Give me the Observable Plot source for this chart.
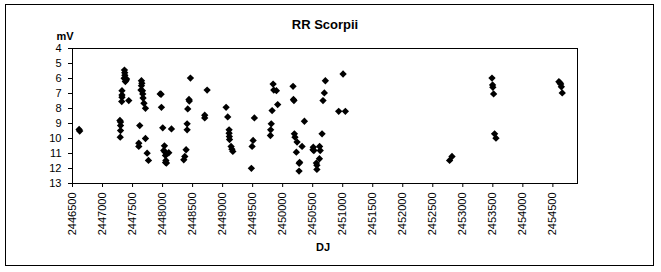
<!DOCTYPE html>
<html>
<head>
<meta charset="utf-8">
<script src="https://cdn.jsdelivr.net/npm/d3@7"></script>
<script src="https://cdn.jsdelivr.net/npm/@observablehq/plot@0.6"></script>
<style>
  html, body { margin: 0; padding: 0; background: #fff; }
  #wrap { position: relative; width: 661px; height: 272px; overflow: hidden; }
  #outer { position: absolute; left: 5px; top: 4px; width: 649px; height: 262px; border: 1px solid #000; box-sizing: border-box; }
  #chart { position: absolute; left: 0; top: 0; }
  g[aria-label="title"] text { letter-spacing: 1.2px; }
  g[aria-label="ylabel"] text { letter-spacing: 1.5px; }
</style>
</head>
<body>
<div id="wrap"><div id="outer"></div><div id="chart"></div></div>
<script>
// Julian dates (DJ) and visual magnitudes (mV)
const jd = [
  2446610, 2446620, 2447290, 2447300, 2447300, 2447300, 2447295,
  2447324, 2447324, 2447324, 2447320,
  2447365, 2447370, 2447372, 2447360, 2447395, 2447400, 2447380, 2447437,
  2447648, 2447655, 2447648, 2447640, 2447665, 2447670, 2447675, 2447690, 2447715,
  2447620, 2447604, 2447604, 2447715, 2447743, 2447765,
  2447960, 2447975, 2447981, 2448003, 2448031, 2448020, 2448040, 2448048, 2448055, 2448065, 2448050,
  2448103, 2448148,
  2448353, 2448370, 2448392, 2448409, 2448409, 2448419, 2448440, 2448445, 2448464,
  2448702, 2448702, 2448742,
  2449058, 2449085, 2449108, 2449108, 2449112, 2449115, 2449141, 2449155, 2449170,
  2449479, 2449491, 2449508, 2449529,
  2449796, 2449800, 2449810, 2449824, 2449841, 2449852, 2449896, 2449917,
  2450173, 2450180, 2450188, 2450195, 2450205, 2450240, 2450228, 2450283, 2450275, 2450273,
  2450323, 2450362,
  2450510, 2450520, 2450505, 2450561, 2450570, 2450570, 2450615, 2450625, 2450612,
  2450656, 2450672, 2450694, 2450711,
  2450933, 2451044, 2451006,
  2452780, 2452820,
  2453486, 2453496, 2453500, 2453513, 2453529, 2453552,
  2454600, 2454620, 2454630, 2454641, 2454656
];
const mv = [
  9.40, 9.50, 8.80, 8.90, 9.14, 9.47, 9.91,
  6.81, 7.10, 7.25, 7.54,
  5.44, 5.61, 5.79, 5.99, 6.10, 6.03, 6.20, 7.47,
  6.15, 6.32, 6.48, 6.77, 6.81, 7.03, 7.30, 7.65, 7.99,
  9.14, 10.31, 10.53, 10.00, 10.98, 11.46,
  7.03, 7.05, 7.92, 9.29, 10.49, 10.80, 10.90, 11.13, 11.46, 11.64, 11.60,
  10.95, 9.36,
  11.42, 11.20, 10.75, 9.02, 9.42, 8.03, 7.40, 7.50, 5.97,
  8.45, 8.63, 6.77,
  7.92, 8.56, 9.42, 9.65, 9.87, 10.07, 10.53, 10.71, 10.86,
  11.99, 10.53, 10.13, 8.63,
  9.80, 9.42, 9.02, 8.14, 6.37, 6.77, 6.81, 7.74,
  6.52, 7.40, 7.47, 9.69, 9.91, 10.24, 10.91, 11.59, 11.65, 12.17,
  10.53, 8.85,
  10.58, 10.80, 10.75, 11.64, 11.79, 12.06, 10.53, 10.80, 11.35,
  9.69, 7.47, 6.96, 6.15,
  8.19, 8.19, 5.70,
  11.46, 11.20,
  5.97, 6.43, 6.59, 7.03, 9.69, 9.98,
  6.21, 6.30, 6.37, 6.55, 6.96
];
const xTicks = [2446500, 2447000, 2447500, 2448000, 2448500, 2449000, 2449500, 2450000,
  2450500, 2451000, 2451500, 2452000, 2452500, 2453000, 2453500, 2454000, 2454500];
const yTicks = [4, 5, 6, 7, 8, 9, 10, 11, 12, 13];
const title = "RR Scorpii";
const xLabel = "DJ";
const yLabel = "mV";

const data = jd.map((d, i) => ({jd: d, mv: mv[i]}));

const plot = Plot.plot({
  width: 661,
  height: 272,
  marginLeft: 72,
  marginRight: 84,
  marginTop: 48,
  marginBottom: 89,
  style: {fontFamily: "Arial, 'Liberation Sans', sans-serif", fontSize: "11px", color: "#000", background: "transparent"},
  x: {domain: [2446500, 2454910]},
  y: {domain: [4, 13], reverse: true},
  marks: [
    Plot.frame({stroke: "#000", strokeWidth: 1}),
    Plot.axisX({ticks: xTicks, tickSize: 4, tickPadding: 5, tickRotate: -90, tickFormat: d => String(d), label: null, fontSize: 11}),
    Plot.axisY({ticks: yTicks, tickSize: 4, tickPadding: 7, tickFormat: d => String(d), label: null, fontSize: 11}),
    Plot.dot(data, {x: "jd", y: "mv", symbol: "diamond2", r: 3.3, fill: "#000", stroke: "none"}),
    Plot.text([title], {text: d => d, frameAnchor: "top", dy: -20, lineAnchor: "bottom", fontWeight: "bold", fontSize: 13, ariaLabel: "title"}),
    Plot.text([yLabel], {text: d => d, frameAnchor: "top-left", dx: -16, dy: -9, textAnchor: "start", lineAnchor: "bottom", fontWeight: "bold", fontSize: 11, ariaLabel: "ylabel"}),
    Plot.text([xLabel], {text: d => d, frameAnchor: "bottom", dx: -2, dy: 67, lineAnchor: "bottom", fontWeight: "bold", fontSize: 11, ariaLabel: "xlabel"})
  ]
});
document.getElementById("chart").appendChild(plot);
</script>
</body>
</html>
